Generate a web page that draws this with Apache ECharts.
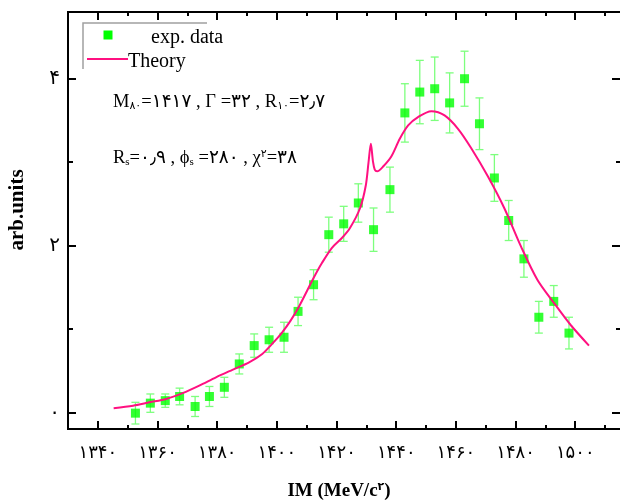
<!DOCTYPE html>
<html>
<head>
<meta charset="utf-8">
<script src="https://cdn.jsdelivr.net/npm/echarts@6/dist/echarts.min.js"></script>
<style>
  html, body { margin: 0; padding: 0; background: #fff; }
  #chart { width: 620px; height: 501px; }
</style>
</head>
<body>
<div id="chart"></div>
<script>
// measured points (MeV, arb.units) and half error bars
const expX = [1352.6, 1357.6, 1362.6, 1367.4, 1372.6, 1377.4, 1382.4, 1387.4, 1392.4, 1397.4,
              1402.4, 1407.1, 1412.3, 1417.4, 1422.4, 1427.3, 1432.4, 1437.9, 1442.9, 1447.9,
              1452.9, 1457.9, 1462.9, 1467.9, 1472.9, 1477.7, 1482.8, 1487.8, 1492.8, 1497.9];
const expY = [-0.01, 0.11, 0.14, 0.19, 0.07, 0.19, 0.30, 0.58, 0.80, 0.87,
              0.90, 1.21, 1.53, 2.13, 2.26, 2.51, 2.19, 2.67, 3.59, 3.84,
              3.88, 3.71, 4.00, 3.46, 2.81, 2.30, 1.84, 1.14, 1.33, 0.95];
const expErr = [0.13, 0.11, 0.08, 0.10, 0.12, 0.12, 0.12, 0.12, 0.14, 0.15,
                0.18, 0.17, 0.18, 0.21, 0.21, 0.23, 0.26, 0.27, 0.35, 0.38,
                0.38, 0.36, 0.33, 0.31, 0.28, 0.24, 0.22, 0.19, 0.19, 0.19];

// theory curve
const theoryX = [1345.3, 1351.8, 1357.3, 1362.9, 1368.4, 1374.0, 1379.6, 1385.1, 1390.7, 1395.1,
                 1398.4, 1401.8, 1404.6, 1407.3, 1412.3, 1415.1, 1418.4, 1421.8, 1424.5, 1427.9,
                 1429.8, 1430.7, 1431.5, 1432.2, 1432.8, 1433.6, 1435.7, 1438.4, 1441.2, 1444.0,
                 1447.3, 1451.8, 1456.2, 1460.7, 1465.1, 1470.7, 1476.2, 1481.8, 1487.3, 1492.9,
                 1498.4, 1504.6];
const theoryY = [0.05, 0.08, 0.12, 0.16, 0.23, 0.32, 0.42, 0.51, 0.60, 0.70,
                 0.82, 0.96, 1.10, 1.26, 1.61, 1.79, 1.97, 2.09, 2.21, 2.45,
                 2.72, 2.99, 3.22, 3.01, 2.91, 2.89, 2.95, 3.07, 3.28, 3.44,
                 3.54, 3.61, 3.56, 3.40, 3.17, 2.83, 2.45, 1.99, 1.59, 1.31,
                 1.05, 0.80];

// tick positions
const xMajor = [1340, 1360, 1380, 1400, 1420, 1440, 1460, 1480, 1500];
const xMinor = [1350, 1370, 1390, 1410, 1430, 1450, 1470, 1490, 1510];
const yMajor = [0, 2, 4];
const yMinor = [1, 3];

const faDigits = '۰۱۲۳۴۵۶۷۸۹';
const fa = v => String(v).replace(/[0-9]/g, d => faDigits[d]);

const serif = "'Liberation Serif', 'DejaVu Sans', serif";
const green = '#00ff00';
const barGreen = '#7dff7d';
const pink = '#ff1080';

const mychart = echarts.init(document.getElementById('chart'));

const hidden = { show: false };
function xAx(pos, vals, len, labels) {
    return {
        type: 'value', position: pos, min: 1330, max: 1515,
        axisLine: { show: true, onZero: false, lineStyle: { color: '#000', width: 2 } },
        axisTick: { show: true, inside: true, length: len, customValues: vals, lineStyle: { color: '#000', width: 2 } },
        axisLabel: labels ? {
            show: true, customValues: vals, margin: 15, color: '#000',
            fontSize: 18, fontFamily: serif, formatter: v => fa(v)
        } : hidden,
        splitLine: hidden
    };
}
function yAx(pos, vals, len, labels) {
    return {
        type: 'value', position: pos, min: -0.2, max: 4.8,
        axisLine: { show: pos === 'left', onZero: false, lineStyle: { color: '#000', width: 2 } },
        axisTick: { show: true, inside: true, length: len, customValues: vals, lineStyle: { color: '#000', width: 2 } },
        axisLabel: labels ? {
            show: true, customValues: vals, margin: 8, color: '#000',
            fontSize: 20, fontFamily: serif, formatter: v => fa(v), padding: [0, 0, 6, 0]
        } : hidden,
        splitLine: hidden
    };
}

const option = {
    animation: false,
    backgroundColor: '#fff',
    grid: { left: 68, top: 12, width: 555, bottom: 72 },
    xAxis: [
        xAx('bottom', xMajor, 8, true),
        xAx('bottom', xMinor, 4, false),
        xAx('top', xMajor, 8, false),
        xAx('top', xMinor, 4, false)
    ],
    yAxis: [
        yAx('left', yMajor, 8, true),
        yAx('left', yMinor, 5, false),
        yAx('right', yMajor, 8, false),
        yAx('right', yMinor, 4, false)
    ],
    graphic: [
        // legend frame
        { type: 'polyline', shape: { points: [[83, 69], [83, 23], [207, 23]] },
          style: { stroke: '#a0a0a0', lineWidth: 1.5, fill: null } },
        { type: 'rect', shape: { x: 103.5, y: 30.5, width: 9, height: 9 }, style: { fill: green } },
        { type: 'text', x: 151, y: 38, style: { text: 'exp. data', fontSize: 20, fontFamily: serif, fill: '#000', textVerticalAlign: 'middle' } },
        { type: 'line', shape: { x1: 87, y1: 59, x2: 128, y2: 59 }, style: { stroke: pink, lineWidth: 2 } },
        { type: 'text', x: 128, y: 62, style: { text: 'Theory', fontSize: 20, fontFamily: serif, fill: '#000', textVerticalAlign: 'middle' } },
        // fit parameters
        { type: 'text', x: 113, y: 102, style: {
            text: 'M{sub|۸۰}=۱۴۱۷ , Γ =۳۲ , R{sub|۱۰}=۲٫۷',
            fontSize: 18.5, fontFamily: serif, fill: '#000', textVerticalAlign: 'middle',
            rich: { sub: { fontSize: 11, fontFamily: serif, verticalAlign: 'bottom', padding: [7, 0, 0, 0] } }
        } },
        { type: 'text', x: 113, y: 158, style: {
            text: 'R{sub|s}=۰٫۹ , ϕ{sub|s} =۲۸۰ , χ{sup|۲}=۳۸',
            fontSize: 18.5, fontFamily: serif, fill: '#000', textVerticalAlign: 'middle',
            rich: {
                sub: { fontSize: 11, fontFamily: serif, verticalAlign: 'bottom', padding: [7, 0, 0, 0] },
                sup: { fontSize: 11, fontFamily: serif, verticalAlign: 'top', padding: [0, 0, 7, 0] }
            }
        } },
        // axis titles
        { type: 'text', x: 339, y: 491, style: {
            text: 'IM (MeV/c{sup|۲})', fontSize: 19, fontWeight: 'bold', fontFamily: serif, fill: '#000',
            textAlign: 'center', textVerticalAlign: 'middle',
            rich: { sup: { fontSize: 11, fontWeight: 'bold', fontFamily: serif, verticalAlign: 'top', padding: [0, 0, 7, 0] } }
        } },
        { type: 'text', x: 18, y: 210, rotation: Math.PI / 2, style: {
            text: 'arb.units', fontSize: 21, fontWeight: 'bold', fontFamily: serif, fill: '#000',
            textAlign: 'center', textVerticalAlign: 'middle'
        } }
    ],
    series: [
        {
            name: 'err',
            type: 'custom',
            xAxisIndex: 0, yAxisIndex: 0,
            z: 2,
            data: expX.map((x, i) => [x, expY[i], expErr[i]]),
            renderItem: (params, api) => {
                const x = api.value(0), y = api.value(1), e = api.value(2);
                const t = api.coord([x, y + e]);
                const b = api.coord([x, y - e]);
                const st = { stroke: barGreen, lineWidth: 1.3 };
                return {
                    type: 'group',
                    children: [
                        { type: 'line', shape: { x1: t[0], y1: t[1], x2: b[0], y2: b[1] }, style: st },
                        { type: 'line', shape: { x1: t[0] - 4, y1: t[1], x2: t[0] + 4, y2: t[1] }, style: st },
                        { type: 'line', shape: { x1: b[0] - 4, y1: b[1], x2: b[0] + 4, y2: b[1] }, style: st }
                    ]
                };
            }
        },
        {
            name: 'exp. data',
            type: 'scatter',
            xAxisIndex: 0, yAxisIndex: 0,
            z: 3,
            symbol: 'rect',
            symbolSize: 9,
            itemStyle: { color: green },
            data: expX.map((x, i) => [x, expY[i]])
        },
        {
            name: 'Theory',
            type: 'line',
            xAxisIndex: 0, yAxisIndex: 0,
            z: 4,
            showSymbol: false,
            smooth: 0.3,
            lineStyle: { color: pink, width: 2 },
            data: theoryX.map((x, i) => [x, theoryY[i]])
        }
    ]
};
mychart.setOption(option);
window.addEventListener('resize', () => {
    mychart.resize();
});
</script>
</body>
</html>
